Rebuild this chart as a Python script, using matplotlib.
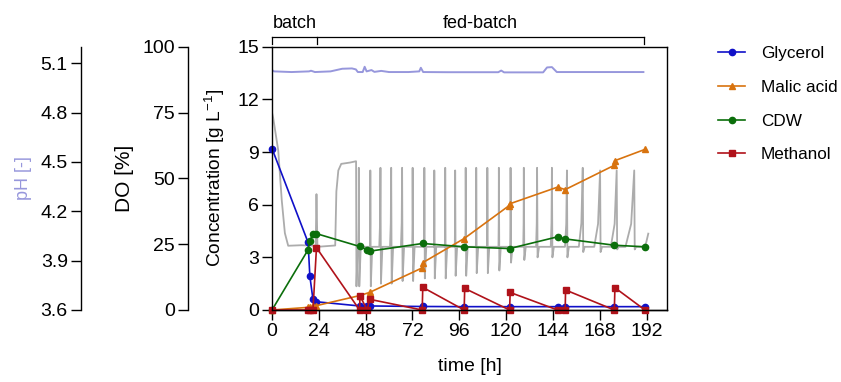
import numpy as np
import matplotlib.pyplot as plt
from matplotlib import transforms

plt.rcParams['font.family'] = 'Liberation Sans'
plt.rcParams['mathtext.fontset'] = 'custom'
plt.rcParams['mathtext.rm'] = 'Liberation Sans'
plt.rcParams['mathtext.it'] = 'Liberation Sans:italic'
plt.rcParams['font.size'] = 13

# offline samples, time in h
t_samp = [0, 18.5, 19.4, 21.0, 22.8, 44.9, 48.8, 50.0, 77.2, 98.5, 121.8, 146.4, 150.3, 175.5, 191.2]
glycerol = [9.2, 3.85, 1.93, 0.6, 0.47, 0.23, 0.23, 0.23, 0.2, 0.19, 0.19, 0.19, 0.19, 0.19, 0.19]
cdw = [0, 3.43, 3.95, 4.33, 4.35, 3.62, 3.43, 3.35, 3.79, 3.6, 3.5, 4.17, 4.05, 3.69, 3.6]

t_malic = [0, 18.5, 19.4, 21.0, 22.8, 44.9, 50.0, 77.0, 77.3, 98.5, 121.6, 121.9, 146.4, 150.3, 175.4, 175.6, 191.2]
malic = [0, 0.15, 0.18, 0.2, 0.25, 0.82, 1.0, 2.4, 2.7, 4.07, 5.95, 6.05, 7.0, 6.86, 8.24, 8.5, 9.15]

t_meoh = [0, 18.5, 19.4, 21.0, 22.8, 44.9, 45.1, 48.8, 50.0, 77.0, 77.3, 98.5, 98.8,
          121.8, 122.1, 146.4, 150.3, 150.5, 175.5, 175.8, 191.2]
methanol = [0, 0, 0, 0, 3.55, 0, 0.8, 0, 0.61, 0, 1.29, 0, 1.23,
            0, 1.0, 0, 0, 1.14, 0, 1.27, 0]

# online pH
t_ph = [0, 1, 10, 19, 20, 22, 30, 33, 36, 41, 43, 44, 46.5, 47.5, 48.5, 51, 52.5, 56, 60,
        70, 75.5, 76.3, 77.5, 90, 116, 117.5, 119, 139, 141, 143.5, 146, 170, 190.4]
ph = [5.058, 5.05, 5.046, 5.05, 5.054, 5.046, 5.05, 5.058, 5.066, 5.068, 5.062, 5.046, 5.046, 5.078, 5.05,
      5.058, 5.047, 5.053, 5.046, 5.046, 5.05, 5.072, 5.046, 5.045, 5.045, 5.055, 5.044, 5.044, 5.074,
      5.076, 5.046, 5.046, 5.046]

# online DO, batch phase
t_do0 = [0, 0.6, 3.2, 5.0, 6.6, 8.3, 15, 22.4, 22.8, 23.3, 32.4, 33.0, 34.0, 35.5, 40, 43.1, 43.3, 43.9]
do0 = [75, 73, 60.6, 41.7, 29.2, 24.4, 24.6, 24.4, 44, 24, 24.5, 45, 53, 55.5, 56, 56.5, 9, 24]
# DO spikes during methanol pulses: time, peak, dip, rise duration
spk_t = [44.5, 50.4, 55.6, 61.1, 66.7, 72.1, 78.1, 83.2, 88.8, 93.9, 99.3, 104.7, 110.4, 116.3,
         122.3, 129.1, 135.9, 143.5, 151.2, 159.3, 168.2, 176.7, 185.7]
spk_peak = [54, 53, 54, 54, 54, 54, 54, 53, 54, 53, 54, 54, 54, 54,
            54, 54, 54, 54, 53, 54, 53, 53, 53]
spk_dip = [9, 9, 10, 10, 11, 11, 12, 12, 12, 13, 13, 14, 14, 15,
           18, 19, 20, 20, 20, 22, 22, 23, 23]
spk_rise = [0.2, 0.2, 0.6, 0.6, 0.6, 0.2, 0.2, 0.2, 0.2, 0.2, 0.2, 0.2, 0.2, 0.2,
            0.2, 0.3, 0.5, 0.6, 1.0, 2.0, 3.0, 3.0, 4.5]
do_base = 24
t_do_end = [190.7, 191.8, 192.9]
do_end = [24, 25.5, 29]

phase_edges = [0, 23.1, 190.5]
phase_labels = ['batch', 'fed-batch']

# build DO trace vertices
t_do = list(t_do0)
do = list(do0)
for t, p, d, r in zip(spk_t, spk_peak, spk_dip, spk_rise):
    t_do += [t - r, t - 0.35 * r, t, t + 0.25, t + 1.0]
    do += [do_base, do_base + 0.3 * (p - do_base), p, d, do_base]
t_do += t_do_end
do += do_end

fig = plt.figure(figsize=(8.41, 3.82), dpi=100)
rect = [272 / 841, 1 - 310 / 382, 395 / 841, 263.3 / 382]
ax_ph = fig.add_axes(rect)
ax_do = ax_ph.twinx()
ax = ax_ph.twinx()

ph_col = '#9797dc'
ax_ph.plot(t_ph, ph, color=ph_col, lw=1.4)
ax_do.plot(t_do, do, color='#acacac', lw=1.3)

ax.plot(t_samp, glycerol, color='#1010c8', marker='o', ms=4.5, lw=1.2, label='Glycerol', clip_on=False)
ax.plot(t_malic, malic, color='#d8730f', marker='^', ms=4.8, lw=1.2, label='Malic acid', clip_on=False)
ax.plot(t_samp, cdw, color='#0b6e0b', marker='o', ms=4.5, lw=1.2, label='CDW', clip_on=False)
ax.plot(t_meoh, methanol, color='#b0121a', marker='s', ms=4.2, lw=1.2, label='Methanol', clip_on=False)

ax_ph.set_xlim(0, 202.5)
ax_ph.set_xticks(np.arange(0, 193, 24))
ax_ph.set_ylim(3.6, 5.2)
ax_ph.set_yticks([3.6, 3.9, 4.2, 4.5, 4.8, 5.1])
ax_ph.set_yticklabels(['3.6', '3.9', '4.2', '4.5', '4.8', '5.1'])
ax_do.set_ylim(0, 100)
ax_do.set_yticks([0, 25, 50, 75, 100])
ax.set_ylim(0, 15)
ax.set_yticks([0, 3, 6, 9, 12, 15])

for a in (ax_ph, ax_do, ax):
    a.tick_params(direction='out', length=7, width=1, labelsize=14, pad=2.5)
    for s in a.spines.values():
        s.set_linewidth(1)

ax_ph.spines['top'].set_visible(False)
ax_ph.spines['right'].set_visible(False)
ax_ph.spines['left'].set_position(('outward', 137.5))

ax_do.yaxis.tick_left()
ax_do.yaxis.set_label_position('left')
for s in ('top', 'right', 'bottom'):
    ax_do.spines[s].set_visible(False)
ax_do.spines['left'].set_position(('outward', 60.5))

ax.yaxis.tick_left()
ax.yaxis.set_label_position('left')

ax_ph.set_ylabel('pH [-]', color=ph_col, fontsize=13, labelpad=6)
ax_do.set_ylabel('DO [%]', fontsize=15, labelpad=6)
ax.set_ylabel('Concentration [g L$^{\\mathregular{-1}}$]', fontsize=13.8, labelpad=7)
ax_ph.set_xlabel('time [h]', fontsize=14, labelpad=13)

# batch / fed-batch bracket
tr = transforms.blended_transform_factory(ax.transData, ax.transAxes)
ax.plot([phase_edges[0], phase_edges[-1]], [1.036, 1.036], color='black', lw=0.9, transform=tr, clip_on=False)
for e in phase_edges:
    ax.plot([e, e], [1.036, 1.012], color='black', lw=0.9, transform=tr, clip_on=False)
for i, lab in enumerate(phase_labels):
    xc = (phase_edges[i] + phase_edges[i + 1]) / 2
    ax.text(xc, 1.07, lab, transform=tr, ha='center', va='baseline', fontsize=13)

fig.legend(*ax.get_legend_handles_labels(), loc='upper left', bbox_to_anchor=(718 / 841, 1 - 46 / 382),
           frameon=False, borderpad=0, borderaxespad=0, handlelength=1.6, handletextpad=0.9,
           labelspacing=1.1, fontsize=12.3)

fig.savefig('out.png', dpi=100)
